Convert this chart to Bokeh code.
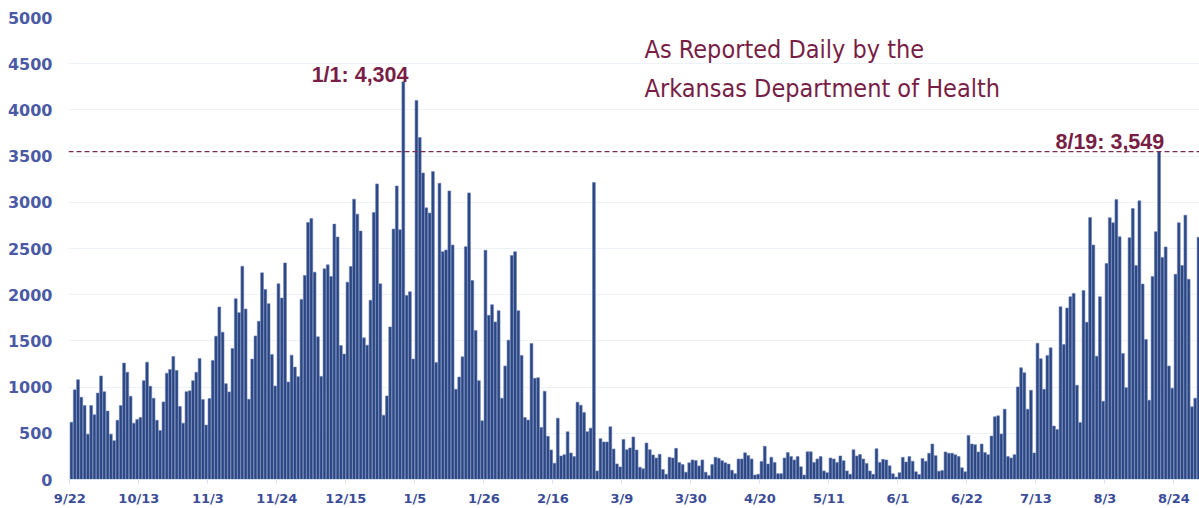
import pandas as pd
from bokeh.plotting import figure
from bokeh.models import FixedTicker, Span, Label, Range1d, ColumnDataSource
from bokeh.embed import file_html
from bokeh.resources import INLINE

# ---------------- data ----------------
start_date = "2020-09-22"

daily_cases = [
    620, 970, 1080, 890, 800, 490, 800, 700, 935, 1120,
    950, 740, 490, 420, 640, 800, 1260, 1160, 900, 610,
    650, 670, 1070, 1270, 1010, 880, 640, 530, 840, 1150,
    1190, 1330, 1180, 790, 610, 950, 960, 1070, 1160, 1310,
    865, 589, 876, 1289, 1551, 1867, 1594, 1037, 948, 1418,
    1957, 1806, 2308, 1845, 869, 1303, 1554, 1712, 2237, 2057,
    1903, 1353, 1012, 2118, 1964, 2344, 1055, 1346, 1217, 1113,
    1949, 2208, 2782, 2825, 2244, 1544, 1116, 2280, 2323, 2197,
    2764, 2624, 1450, 1357, 2136, 2305, 3034, 2872, 2689, 1533,
    1454, 1939, 2890, 3199, 2118, 696, 905, 1651, 2710, 3177,
    2703, 4304, 1992, 2032, 1303, 4103, 3701, 3317, 2940, 2883,
    3332, 1267, 3206, 2466, 2484, 3123, 2538, 976, 1109, 1328,
    2520, 3102, 2154, 1612, 1070, 635, 2481, 1777, 1892, 1705,
    1827, 880, 1228, 1508, 2423, 2466, 1827, 1343, 671, 643,
    1472, 1095, 1102, 564, 955, 467, 320, 176, 664, 255,
    269, 517, 287, 248, 836, 804, 725, 517, 556, 3213,
    93, 442, 406, 406, 571, 330, 169, 136, 434, 323,
    341, 460, 320, 133, 115, 395, 323, 266, 233, 273,
    108, 57, 240, 233, 337, 183, 162, 79, 180, 212,
    205, 147, 212, 79, 43, 162, 240, 230, 204, 181,
    167, 100, 63, 222, 222, 289, 259, 222, 48, 56,
    196, 359, 167, 241, 185, 63, 63, 233, 292, 248,
    211, 248, 137, 48, 300, 300, 185, 222, 248, 93,
    74, 233, 222, 185, 255, 204, 93, 56, 322, 255,
    270, 222, 174, 93, 56, 333, 185, 218, 211, 148,
    63, 26, 74, 240, 190, 248, 197, 83, 54, 226,
    197, 284, 384, 258, 90, 97, 298, 284, 284, 269,
    248, 126, 83, 477, 384, 377, 298, 384, 291, 269,
    470, 679, 689, 492, 761, 248, 233, 269, 1002, 1210,
    1156, 761, 966, 287, 1475, 1307, 976, 1343, 1425, 578,
    542, 1870, 1461, 1856, 1978, 2014, 1020, 617, 2046, 1702,
    2836, 2538, 1335, 1978, 847, 2337, 2833, 2779, 3030, 2628,
    1364, 994, 2617, 2933, 2316, 3016, 2115, 1515, 858, 2197,
    2682, 3549, 2402, 2517, 1228, 987, 2222, 2779, 2316, 2861,
    2168, 786, 880, 2621,
]

tick_labels = ["9/22", "10/13", "11/3", "11/24", "12/15", "1/5", "1/26", "2/16",
               "3/9", "3/30", "4/20", "5/11", "6/1", "6/22", "7/13", "8/3", "8/24"]
y_ticks = [0, 500, 1000, 1500, 2000, 2500, 3000, 3500, 4000, 4500, 5000]

winter_peak_date = "1/1"
summer_peak_date = "8/19"
title_lines = ["As Reported Daily by the", "Arkansas Department of Health"]

# ---------------- build ----------------
dates = pd.date_range(start_date, periods=len(daily_cases), freq="D")
date_labels = [f"{d.month}/{d.day}" for d in dates]
n = len(daily_cases)

src = ColumnDataSource(dict(
    x=[i + 0.5 for i in range(n)],
    cases=daily_cases,
    date=date_labels,
))

MAROON = "#781e46"
BAR = "#2b4683"

p = figure(
    frame_width=1131, frame_height=462,
    x_range=Range1d(-0.4, n - 0.2), y_range=Range1d(0, 5000),
    output_backend="svg", toolbar_location=None,
    min_border_left=68, min_border_right=0, min_border_top=17, min_border_bottom=29,
    background_fill_color="white", border_fill_color="white",
)
p.outline_line_color = None

p.vbar(x="x", top="cases", width=0.86, source=src,
       fill_color=BAR, line_color="#6a82b4", line_width=0.6)

# y axis
p.yaxis.ticker = FixedTicker(ticks=y_ticks)
p.yaxis.axis_line_color = None
p.yaxis.major_tick_line_color = None
p.yaxis.minor_tick_line_color = None
p.yaxis.major_tick_out = 0
p.yaxis.major_tick_in = 0
p.yaxis.major_label_standoff = 16
p.yaxis.major_label_text_font = "DejaVu Sans"
p.yaxis.major_label_text_font_style = "bold"
p.yaxis.major_label_text_font_size = "16px"
p.yaxis.major_label_text_color = "#4a5aa5"

# x axis
tick_pos = [date_labels.index(t) for t in tick_labels]
p.xaxis.ticker = FixedTicker(ticks=tick_pos)
p.xaxis.major_label_overrides = {pos: lab for pos, lab in zip(tick_pos, tick_labels)}
p.xaxis.axis_line_color = "#d9e2f1"
p.xaxis.major_tick_line_color = "#d9e2f1"
p.xaxis.minor_tick_line_color = None
p.xaxis.major_tick_out = 4
p.xaxis.major_tick_in = 0
p.xaxis.major_label_standoff = 7
p.xaxis.major_label_text_font = "DejaVu Sans"
p.xaxis.major_label_text_font_style = "bold"
p.xaxis.major_label_text_font_size = "13px"
p.xaxis.major_label_text_color = "#3b4d98"

p.xgrid.grid_line_color = None
p.ygrid.ticker = FixedTicker(ticks=y_ticks)
p.ygrid.grid_line_color = "#edf1f8"
p.ygrid.grid_line_width = 1

# reference line at the summer peak
i_sum = date_labels.index(summer_peak_date)
i_win = date_labels.index(winter_peak_date)
p.add_layout(Span(location=daily_cases[i_sum], dimension="width",
                  line_color="#7b2a52", line_dash="5 3", line_width=1.2))

# peak annotations
for idx, lab, yoff in [(i_win, winter_peak_date, 7), (i_sum, summer_peak_date, 10)]:
    p.add_layout(Label(x=idx + 1, y=daily_cases[idx], x_offset=3.5, y_offset=yoff,
                       text=f"{lab}: {daily_cases[idx]:,}",
                       text_align="right", text_baseline="alphabetic",
                       text_font="Liberation Sans", text_font_style="bold",
                       text_font_size="21.5px", text_color=MAROON))

# title block
title_x = 174.9
for line, yv in zip(title_lines, [4654, 4232]):
    p.add_layout(Label(x=title_x, y=yv, text=line,
                       text_align="left", text_baseline="alphabetic",
                       text_font="DejaVu Sans Condensed", text_font_size="25px",
                       text_color=MAROON))

open("out.html", "w").write(file_html(p, INLINE))
